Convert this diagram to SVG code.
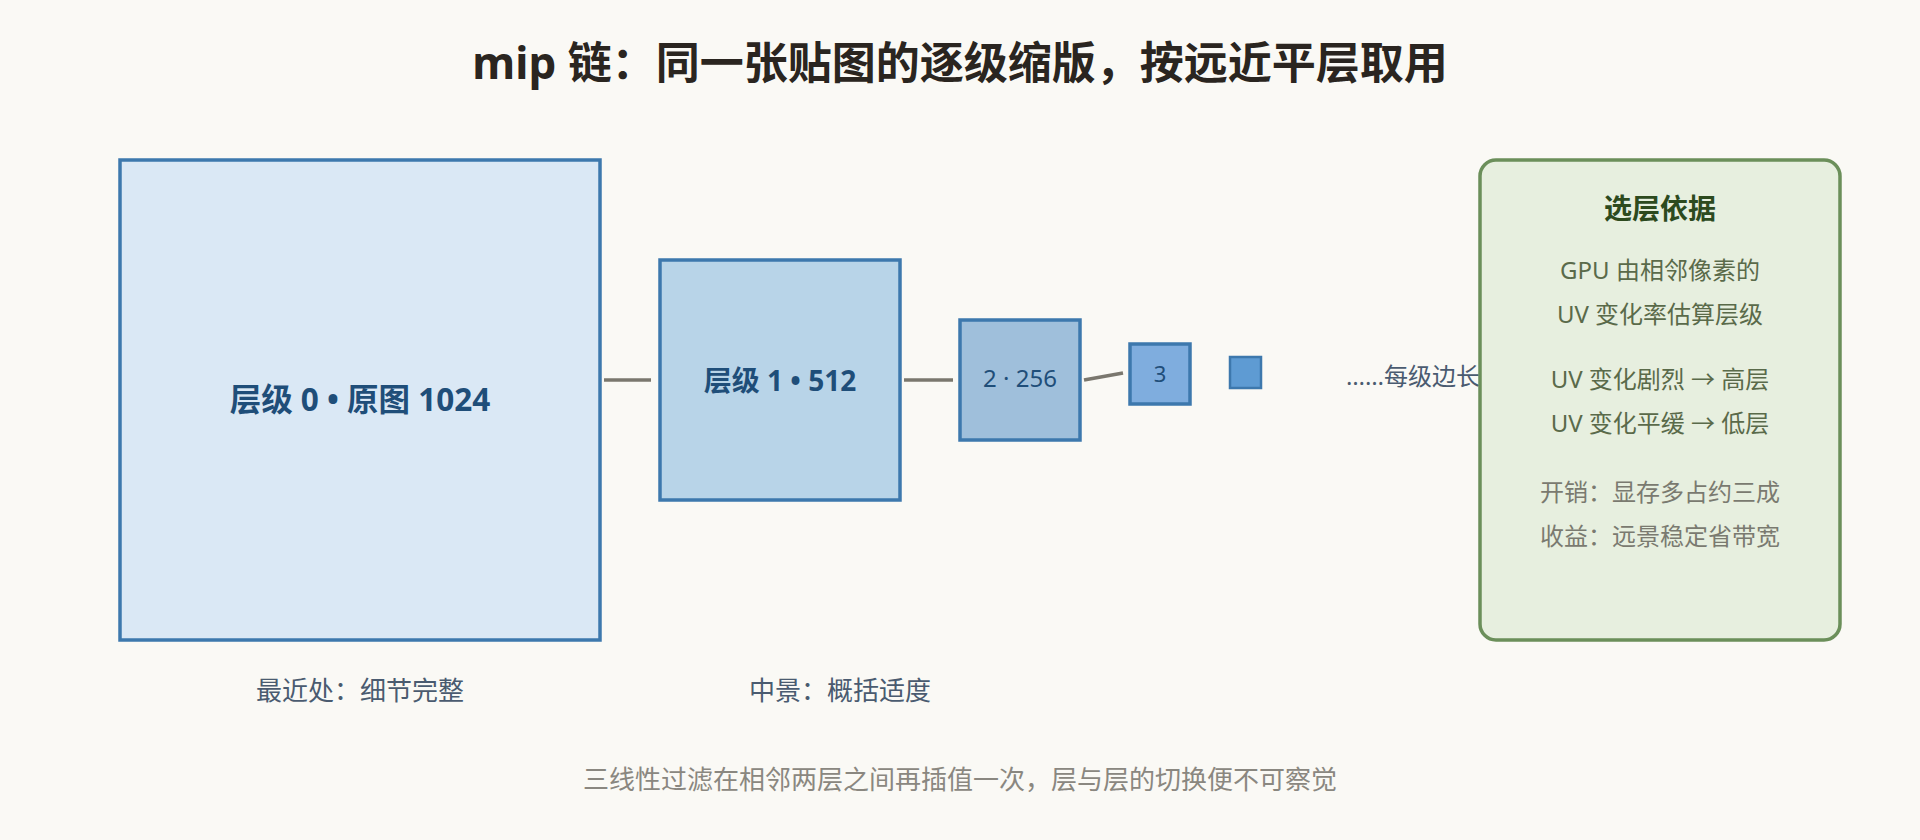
<svg xmlns="http://www.w3.org/2000/svg" width="1920" height="840" viewBox="0 0 1920 840">
<style>
text{font-family:"Noto Sans","Noto Sans CJK SC",sans-serif;text-anchor:middle}
.lvl{stroke:#3d78ad;stroke-width:3.5}
.lbl{fill:#1f4e79}
.b{font-weight:bold}
.conn{stroke:#7a776e;stroke-width:3.5;fill:none}
.note{fill:#4a5b70;font-size:26px}
.pt{fill:#5a6a4a;font-size:24px}
.pc{fill:#7a7a70;font-size:24px}
</style>
<rect width="1920" height="840" fill="#faf9f5"/>
<text x="960" y="79" font-size="44" class="b" fill="#2a2520">mip 链：同一张贴图的逐级缩版，按远近平层取用</text>
<g id="connectors">
<line class="conn" x1="604" y1="380" x2="651" y2="380"/>
<line class="conn" x1="904" y1="380" x2="953" y2="380"/>
<line class="conn" x1="1084" y1="380" x2="1123" y2="373"/>
</g>
<g id="level0">
<rect class="lvl" x="120" y="160" width="480" height="480" fill="#dae8f5"/>
<text class="lbl b" x="360" y="411" font-size="31.5">层级 0 • 原图 1024</text>
</g>
<g id="level1">
<rect class="lvl" x="660" y="260" width="240" height="240" fill="#b8d4e8"/>
<text class="lbl b" x="780" y="391" font-size="28">层级 1 • 512</text>
</g>
<g id="level2">
<rect class="lvl" x="960" y="320" width="120" height="120" fill="#9fbfdb"/>
<text class="lbl" x="1020" y="387" font-size="24">2 · 256</text>
</g>
<g id="level3">
<rect class="lvl" x="1130" y="344" width="60" height="60" fill="#7fadde"/>
<text class="lbl" x="1160" y="382" font-size="22">3</text>
</g>
<g id="level4">
<rect x="1230" y="357" width="31" height="31" fill="#5e9bd3" stroke="#3d78ad" stroke-width="2.5"/>
</g>
<text x="1346" y="385" font-size="24" fill="#4a5b70" style="text-anchor:start">……每级边长</text>
<g id="panel">
<rect x="1480" y="160" width="360" height="480" rx="16" fill="#e7efdf" stroke="#6b8f5a" stroke-width="3.5"/>
<text x="1660" y="219" font-size="28" class="b" fill="#2d4a1e">选层依据</text>
<text class="pt" x="1660" y="279">GPU 由相邻像素的</text>
<text class="pt" x="1660" y="323">UV 变化率估算层级</text>
<text class="pt" x="1660" y="388">UV 变化剧烈 → 高层</text>
<text class="pt" x="1660" y="432">UV 变化平缓 → 低层</text>
<text class="pc" x="1660" y="501">开销：显存多占约三成</text>
<text class="pc" x="1660" y="545">收益：远景稳定省带宽</text>
</g>
<text class="note" x="360" y="700">最近处：细节完整</text>
<text class="note" x="840" y="700">中景：概括适度</text>
<text x="960" y="789" font-size="26" fill="#8a8780">三线性过滤在相邻两层之间再插值一次，层与层的切换便不可察觉</text>
</svg>
